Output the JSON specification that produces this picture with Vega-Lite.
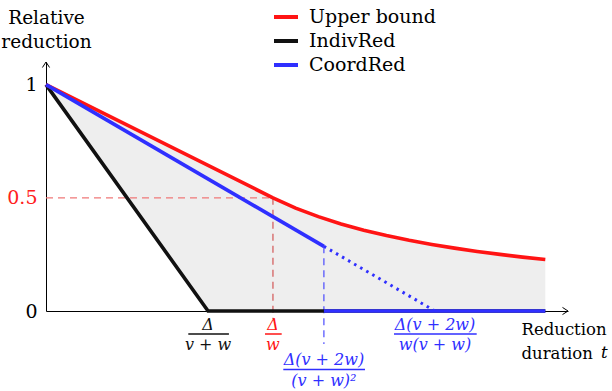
{
  "$schema": "https://vega.github.io/schema/vega-lite/v6.json",
  "width": 522,
  "height": 249,
  "autosize": {"type": "none"},
  "padding": {"left": 46, "top": 62, "right": 44, "bottom": 80},
  "background": "white",
  "config": {
    "view": {"stroke": null},
    "font": "DejaVu Serif, Liberation Serif, serif",
    "text": {"font": "DejaVu Serif, Liberation Serif, serif"},
    "axis": {
      "grid": false, "ticks": false, "domainColor": "black", "domainWidth": 1,
      "labelFont": "DejaVu Serif, Liberation Serif, serif", "labelFontSize": 19, "labelColor": "black",
      "titleFont": "DejaVu Serif, Liberation Serif, serif", "titleFontSize": 18.5, "titleFontWeight": "normal", "titleColor": "black"
    },
    "axisX": {"labels": false},
    "legend": {"labelFont": "DejaVu Serif, Liberation Serif, serif", "labelFontSize": 19, "labelColor": "black"}
  },
  "datasets": {
    "curves": [
      {"series": "Upper bound", "seg": "u", "t": 0, "v": 1},
      {"series": "Upper bound", "seg": "u", "t": 1, "v": 0.5},
      {"series": "Upper bound", "seg": "u", "t": 1.1, "v": 0.4545},
      {"series": "Upper bound", "seg": "u", "t": 1.2, "v": 0.4167},
      {"series": "Upper bound", "seg": "u", "t": 1.3, "v": 0.3846},
      {"series": "Upper bound", "seg": "u", "t": 1.4, "v": 0.3571},
      {"series": "Upper bound", "seg": "u", "t": 1.5, "v": 0.3333},
      {"series": "Upper bound", "seg": "u", "t": 1.6, "v": 0.3125},
      {"series": "Upper bound", "seg": "u", "t": 1.7, "v": 0.2941},
      {"series": "Upper bound", "seg": "u", "t": 1.8, "v": 0.2778},
      {"series": "Upper bound", "seg": "u", "t": 1.9, "v": 0.2632},
      {"series": "Upper bound", "seg": "u", "t": 2.0, "v": 0.25},
      {"series": "Upper bound", "seg": "u", "t": 2.1, "v": 0.2381},
      {"series": "Upper bound", "seg": "u", "t": 2.2, "v": 0.2273},
      {"series": "IndivRed", "seg": "i", "t": 0, "v": 1},
      {"series": "IndivRed", "seg": "i", "t": 0.714, "v": 0},
      {"series": "IndivRed", "seg": "i", "t": 2.2, "v": 0},
      {"series": "CoordRed", "seg": "a", "t": 0, "v": 1},
      {"series": "CoordRed", "seg": "a", "t": 1.2245, "v": 0.2857},
      {"series": "CoordRed", "seg": "b", "t": 1.2245, "v": 0},
      {"series": "CoordRed", "seg": "b", "t": 2.2, "v": 0},
      {"series": "CoordRed", "seg": "ext", "t": 1.2245, "v": 0.2857},
      {"series": "CoordRed", "seg": "ext", "t": 1.714, "v": 0}
    ],
    "region": [
      {"t": 0, "lo": 1, "hi": 1},
      {"t": 0.714, "lo": 0, "hi": 0.643},
      {"t": 1, "lo": 0, "hi": 0.5},
      {"t": 1.1, "lo": 0, "hi": 0.4545},
      {"t": 1.2, "lo": 0, "hi": 0.4167},
      {"t": 1.3, "lo": 0, "hi": 0.3846},
      {"t": 1.4, "lo": 0, "hi": 0.3571},
      {"t": 1.5, "lo": 0, "hi": 0.3333},
      {"t": 1.6, "lo": 0, "hi": 0.3125},
      {"t": 1.7, "lo": 0, "hi": 0.2941},
      {"t": 1.8, "lo": 0, "hi": 0.2778},
      {"t": 1.9, "lo": 0, "hi": 0.2632},
      {"t": 2.0, "lo": 0, "hi": 0.25},
      {"t": 2.1, "lo": 0, "hi": 0.2381},
      {"t": 2.2, "lo": 0, "hi": 0.2273}
    ],
    "guides": [
      {"name": "kink", "t": 1, "v": 0.5, "base": 0},
      {"name": "switch", "t": 1.2245, "v": 0.2857, "base": 0}
    ],
    "axisEnds": [
      {"axis": "x", "t": 2.3, "v": 0},
      {"axis": "y", "t": 0, "v": 1.1}
    ],
    "ticks": [
      {"t": 0.714, "v": 0, "lo": 0.627, "hi": 0.806, "num": "Δ", "den": "v + w", "series": "IndivRed", "row": "upper"},
      {"t": 1.0, "v": 0, "lo": 0.965, "hi": 1.0385, "num": "Δ", "den": "w", "series": "Upper bound", "row": "upper"},
      {"t": 1.2245, "v": 0, "lo": 1.0456, "hi": 1.4055, "num": "Δ(v + 2w)", "den": "(v + w)²", "series": "CoordRed", "row": "lower"},
      {"t": 1.714, "v": 0, "lo": 1.5333, "hi": 1.8977, "num": "Δ(v + 2w)", "den": "w(v + w)", "series": "CoordRed", "row": "upper"}
    ]
  },
  "layer": [
    {
      "data": {"name": "region"},
      "mark": {"type": "area", "color": "#eeeeee"},
      "encoding": {
        "x": {
          "field": "t", "type": "quantitative",
          "scale": {"domain": [0, 2.3], "nice": false, "zero": false},
          "axis": {
            "title": ["Reduction", "duration"],
            "labels": false, "ticks": false, "grid": false,
            "titleFontSize": 16.5,
            "titleAlign": "left", "titleAnchor": "start",
            "titleBaseline": "alphabetic", "titleX": 475, "titleY": 23, "titleLineHeight": 24
          }
        },
        "y": {
          "field": "lo", "type": "quantitative",
          "scale": {"domain": [0, 1.1], "nice": false, "zero": false},
          "axis": {
            "title": ["Relative", "reduction"],
            "values": [0, 0.5, 1], "format": "~g",
            "ticks": false, "grid": false, "labelPadding": 9,
            "labelColor": {"condition": {"test": "datum.value === 0.5", "value": "#ff2020"}, "value": "black"},
            "titleAngle": 0, "titleAlign": "center", "titleBaseline": "alphabetic",
            "titleX": 0, "titleY": -39, "titleLineHeight": 24
          }
        },
        "y2": {"field": "hi"}
      }
    },
    {
      "data": {"name": "guides"},
      "transform": [{"filter": "datum.name === 'kink'"}],
      "mark": {"type": "rule", "color": "#f07878", "strokeWidth": 1.2, "strokeDash": [7, 5]},
      "encoding": {
        "x": {"field": "base", "type": "quantitative", "scale": {"domain": [0, 2.3], "nice": false, "zero": false}},
        "x2": {"field": "t"},
        "y": {"field": "v", "type": "quantitative", "scale": {"domain": [0, 1.1], "nice": false, "zero": false}}
      }
    },
    {
      "data": {"name": "guides"},
      "transform": [{"filter": "datum.name === 'kink'"}],
      "mark": {"type": "rule", "color": "#d04848", "strokeWidth": 1.1, "strokeDash": [7, 5], "y2Offset": 8},
      "encoding": {
        "x": {"field": "t", "type": "quantitative", "scale": {"domain": [0, 2.3], "nice": false, "zero": false}},
        "y": {"field": "v", "type": "quantitative", "scale": {"domain": [0, 1.1], "nice": false, "zero": false}},
        "y2": {"field": "base"}
      }
    },
    {
      "data": {"name": "guides"},
      "transform": [{"filter": "datum.name === 'switch'"}],
      "mark": {"type": "rule", "color": "#3c3cff", "strokeWidth": 1.1, "strokeDash": [7, 5], "y2Offset": 33},
      "encoding": {
        "x": {"field": "t", "type": "quantitative", "scale": {"domain": [0, 2.3], "nice": false, "zero": false}},
        "y": {"field": "v", "type": "quantitative", "scale": {"domain": [0, 1.1], "nice": false, "zero": false}},
        "y2": {"field": "base"}
      }
    },
    {
      "data": {"name": "curves"},
      "transform": [{"filter": "datum.series === 'IndivRed'"}],
      "mark": {"type": "line", "strokeWidth": 3.6},
      "encoding": {
        "x": {"field": "t", "type": "quantitative", "scale": {"domain": [0, 2.3], "nice": false, "zero": false}},
        "y": {"field": "v", "type": "quantitative", "scale": {"domain": [0, 1.1], "nice": false, "zero": false}},
        "color": {
          "field": "series", "type": "nominal",
          "scale": {"domain": ["Upper bound", "IndivRed", "CoordRed"], "range": ["#ff1414", "#111111", "#2f2fff"]},
          "legend": {
            "orient": "none", "legendX": 226, "legendY": -59, "title": null,
            "symbolType": "stroke", "symbolSize": 576, "symbolStrokeWidth": 4,
            "labelFont": "DejaVu Serif, Liberation Serif, serif", "labelFontSize": 19, "labelColor": "black",
            "labelOffset": 9, "rowPadding": 0, "padding": 0
          }
        },
        "detail": {"field": "seg", "type": "nominal"}
      }
    },
    {
      "data": {"name": "curves"},
      "transform": [{"filter": "datum.series === 'Upper bound'"}],
      "mark": {"type": "line", "strokeWidth": 3.6},
      "encoding": {
        "x": {"field": "t", "type": "quantitative", "scale": {"domain": [0, 2.3], "nice": false, "zero": false}},
        "y": {"field": "v", "type": "quantitative", "scale": {"domain": [0, 1.1], "nice": false, "zero": false}},
        "color": {"field": "series", "type": "nominal"},
        "detail": {"field": "seg", "type": "nominal"}
      }
    },
    {
      "data": {"name": "curves"},
      "transform": [{"filter": "datum.series === 'CoordRed' && datum.seg !== 'ext'"}],
      "mark": {"type": "line", "strokeWidth": 3.6},
      "encoding": {
        "x": {"field": "t", "type": "quantitative", "scale": {"domain": [0, 2.3], "nice": false, "zero": false}},
        "y": {"field": "v", "type": "quantitative", "scale": {"domain": [0, 1.1], "nice": false, "zero": false}},
        "color": {"field": "series", "type": "nominal"},
        "detail": {"field": "seg", "type": "nominal"}
      }
    },
    {
      "data": {"name": "curves"},
      "transform": [{"filter": "datum.seg === 'ext'"}],
      "mark": {"type": "line", "strokeWidth": 3, "color": "#2f2fff", "strokeDash": [2.5, 4.5]},
      "encoding": {
        "x": {"field": "t", "type": "quantitative", "scale": {"domain": [0, 2.3], "nice": false, "zero": false}},
        "y": {"field": "v", "type": "quantitative", "scale": {"domain": [0, 1.1], "nice": false, "zero": false}}
      }
    },
    {
      "data": {"name": "axisEnds"},
      "transform": [{"filter": "datum.axis === 'x'"}],
      "mark": {"type": "point", "shape": "M-1,-0.65L0,0L-1,0.65", "filled": false, "size": 121, "color": "black", "strokeWidth": 1, "opacity": 1},
      "encoding": {
        "x": {"field": "t", "type": "quantitative", "scale": {"domain": [0, 2.3], "nice": false, "zero": false}},
        "y": {"field": "v", "type": "quantitative", "scale": {"domain": [0, 1.1], "nice": false, "zero": false}}
      }
    },
    {
      "data": {"name": "axisEnds"},
      "transform": [{"filter": "datum.axis === 'y'"}],
      "mark": {"type": "point", "shape": "M-0.65,1L0,0L0.65,1", "filled": false, "size": 121, "color": "black", "strokeWidth": 1, "opacity": 1},
      "encoding": {
        "x": {"field": "t", "type": "quantitative", "scale": {"domain": [0, 2.3], "nice": false, "zero": false}},
        "y": {"field": "v", "type": "quantitative", "scale": {"domain": [0, 1.1], "nice": false, "zero": false}}
      }
    },
    {
      "data": {"name": "axisEnds"},
      "transform": [{"filter": "datum.axis === 'x'"}],
      "mark": {"type": "text", "text": "t", "font": "DejaVu Serif, Liberation Serif, serif", "fontSize": 16.5, "fontStyle": "italic", "align": "left", "baseline": "alphabetic", "color": "black", "dx": 33, "dy": 47},
      "encoding": {
        "x": {"field": "t", "type": "quantitative", "scale": {"domain": [0, 2.3], "nice": false, "zero": false}},
        "y": {"field": "v", "type": "quantitative", "scale": {"domain": [0, 1.1], "nice": false, "zero": false}}
      }
    },
    {
      "data": {"name": "ticks"},
      "transform": [{"filter": "datum.row === 'upper'"}],
      "mark": {"type": "text", "font": "DejaVu Serif, Liberation Serif, serif", "fontSize": 16, "fontStyle": "italic", "align": "center", "baseline": "alphabetic", "dy": 18.5},
      "encoding": {
        "x": {"field": "t", "type": "quantitative", "scale": {"domain": [0, 2.3], "nice": false, "zero": false}},
        "y": {"field": "v", "type": "quantitative", "scale": {"domain": [0, 1.1], "nice": false, "zero": false}},
        "text": {"field": "num", "type": "nominal"},
        "color": {"field": "series", "type": "nominal", "legend": null}
      }
    },
    {
      "data": {"name": "ticks"},
      "transform": [{"filter": "datum.row === 'upper'"}],
      "mark": {"type": "text", "font": "DejaVu Serif, Liberation Serif, serif", "fontSize": 16, "fontStyle": "italic", "align": "center", "baseline": "alphabetic", "dy": 39},
      "encoding": {
        "x": {"field": "t", "type": "quantitative", "scale": {"domain": [0, 2.3], "nice": false, "zero": false}},
        "y": {"field": "v", "type": "quantitative", "scale": {"domain": [0, 1.1], "nice": false, "zero": false}},
        "text": {"field": "den", "type": "nominal"},
        "color": {"field": "series", "type": "nominal", "legend": null}
      }
    },
    {
      "data": {"name": "ticks"},
      "transform": [{"filter": "datum.row === 'upper'"}],
      "mark": {"type": "rule", "strokeWidth": 1.5, "yOffset": 23},
      "encoding": {
        "x": {"field": "lo", "type": "quantitative", "scale": {"domain": [0, 2.3], "nice": false, "zero": false}},
        "x2": {"field": "hi"},
        "y": {"field": "v", "type": "quantitative", "scale": {"domain": [0, 1.1], "nice": false, "zero": false}},
        "color": {"field": "series", "type": "nominal", "legend": null}
      }
    },
    {
      "data": {"name": "ticks"},
      "transform": [{"filter": "datum.row === 'lower'"}],
      "mark": {"type": "text", "font": "DejaVu Serif, Liberation Serif, serif", "fontSize": 16, "fontStyle": "italic", "align": "center", "baseline": "alphabetic", "dy": 54},
      "encoding": {
        "x": {"field": "t", "type": "quantitative", "scale": {"domain": [0, 2.3], "nice": false, "zero": false}},
        "y": {"field": "v", "type": "quantitative", "scale": {"domain": [0, 1.1], "nice": false, "zero": false}},
        "text": {"field": "num", "type": "nominal"},
        "color": {"field": "series", "type": "nominal", "legend": null}
      }
    },
    {
      "data": {"name": "ticks"},
      "transform": [{"filter": "datum.row === 'lower'"}],
      "mark": {"type": "text", "font": "DejaVu Serif, Liberation Serif, serif", "fontSize": 16, "fontStyle": "italic", "align": "center", "baseline": "alphabetic", "dy": 74.5},
      "encoding": {
        "x": {"field": "t", "type": "quantitative", "scale": {"domain": [0, 2.3], "nice": false, "zero": false}},
        "y": {"field": "v", "type": "quantitative", "scale": {"domain": [0, 1.1], "nice": false, "zero": false}},
        "text": {"field": "den", "type": "nominal"},
        "color": {"field": "series", "type": "nominal", "legend": null}
      }
    },
    {
      "data": {"name": "ticks"},
      "transform": [{"filter": "datum.row === 'lower'"}],
      "mark": {"type": "rule", "strokeWidth": 1.5, "yOffset": 58.5},
      "encoding": {
        "x": {"field": "lo", "type": "quantitative", "scale": {"domain": [0, 2.3], "nice": false, "zero": false}},
        "x2": {"field": "hi"},
        "y": {"field": "v", "type": "quantitative", "scale": {"domain": [0, 1.1], "nice": false, "zero": false}},
        "color": {"field": "series", "type": "nominal", "legend": null}
      }
    }
  ]
}
